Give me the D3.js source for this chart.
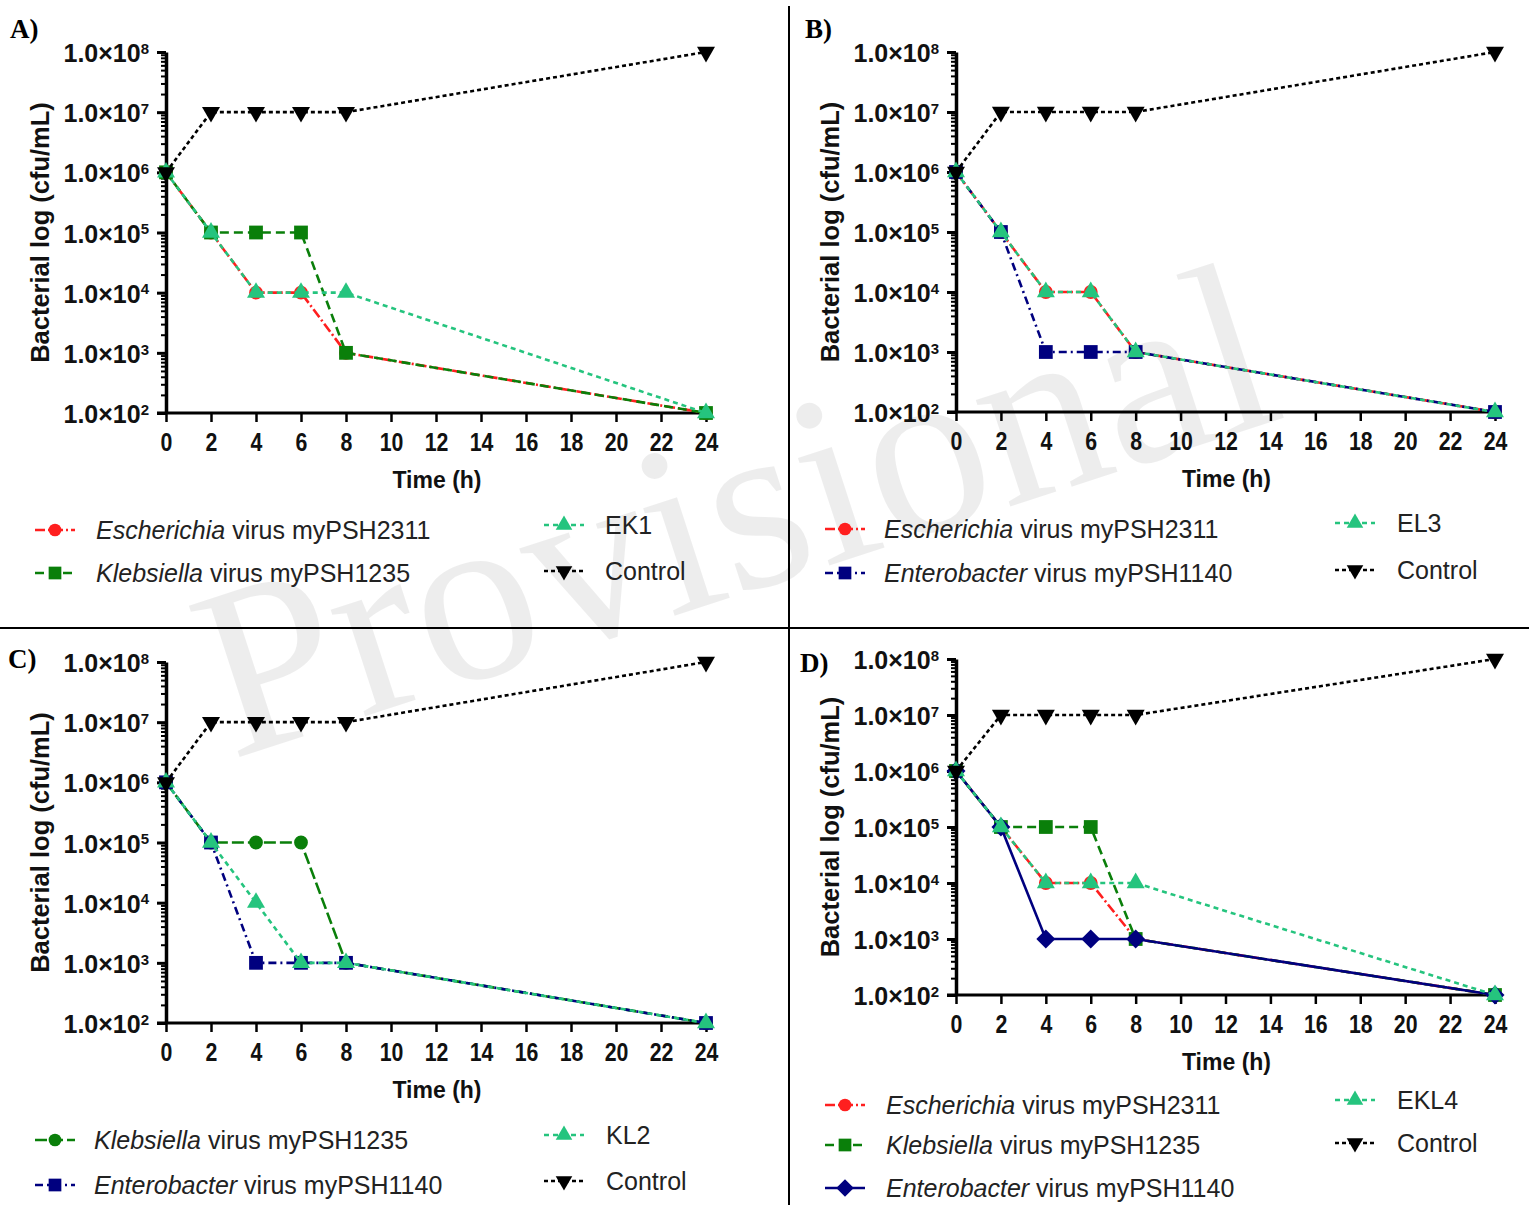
<!DOCTYPE html>
<html>
<head>
<meta charset="utf-8">
<script src="https://cdn.jsdelivr.net/npm/d3@7"></script>
<style>
  body { margin: 0; background: #fff; }
  text { font-family: Arial, "Liberation Sans", sans-serif; }
</style>
</head>
<body>
<div id="chart"></div>
<script>
// sampling times (h) and axis ticks
var times = [0, 2, 4, 6, 8, 24];
var xTicks = [0, 2, 4, 6, 8, 10, 12, 14, 16, 18, 20, 22, 24];
var yTicks = [1e2, 1e3, 1e4, 1e5, 1e6, 1e7, 1e8];

// bacterial counts (cfu/mL)
var escherichia  = [1e6, 1e5, 1e4, 1e4, 1e3, 1e2];
var klebsiella   = [1e6, 1e5, 1e5, 1e5, 1e3, 1e2];
var enterobacter = [1e6, 1e5, 1e3, 1e3, 1e3, 1e2];
var ek1          = [1e6, 1e5, 1e4, 1e4, 1e4, 1e2];
var el3          = [1e6, 1e5, 1e4, 1e4, 1e3, 1e2];
var kl2          = [1e6, 1e5, 1e4, 1e3, 1e3, 1e2];
var ekl4         = [1e6, 1e5, 1e4, 1e4, 1e4, 1e2];
var control      = [1e6, 1e7, 1e7, 1e7, 1e7, 1e8];

var width = 1529, height = 1205;
var RED = "#ff1f1f", GREEN = "#0a7f0a", MINT = "#25c47e", NAVY = "#00007f", BLACK = "#000";

var tri = d3.symbolTriangle;
var panels = [
  { name: "A)", lx: 10, ly: 38, left: 166, right: 706, top: 52, bottom: 413,
    legL: { sx: 55, tx: 96, y: [530, 573] }, legR: { sx: 564, tx: 605, y: [525, 571] },
    series: [
      { label: ["Escherichia", " virus myPSH2311"], values: escherichia, color: RED, sym: d3.symbolCircle, size: 150, dash: "10,3,2,3", col: "L" },
      { label: ["Klebsiella", " virus myPSH1235"], values: klebsiella, color: GREEN, sym: d3.symbolSquare, size: 190, dash: "9,5", col: "L" },
      { label: ["", "EK1"], values: ek1, color: MINT, sym: tri, size: 140, dash: "5,4", col: "R" },
      { label: ["", "Control"], values: control, color: BLACK, sym: tri, size: 140, down: true, dash: "4,3", col: "R" }
    ] },
  { name: "B)", lx: 805, ly: 38, left: 956, right: 1495, top: 52, bottom: 412,
    legL: { sx: 845, tx: 884, y: [529, 573] }, legR: { sx: 1355, tx: 1397, y: [523, 570] },
    series: [
      { label: ["Escherichia", " virus myPSH2311"], values: escherichia, color: RED, sym: d3.symbolCircle, size: 150, dash: "10,3,2,3", col: "L" },
      { label: ["Enterobacter", " virus myPSH1140"], values: enterobacter, color: NAVY, sym: d3.symbolSquare, size: 190, dash: "8,4,2,4", col: "L" },
      { label: ["", "EL3"], values: el3, color: MINT, sym: tri, size: 140, dash: "5,4", col: "R" },
      { label: ["", "Control"], values: control, color: BLACK, sym: tri, size: 140, down: true, dash: "4,3", col: "R" }
    ] },
  { name: "C)", lx: 8, ly: 668, left: 166, right: 706, top: 662, bottom: 1023,
    legL: { sx: 55, tx: 94, y: [1140, 1185] }, legR: { sx: 564, tx: 606, y: [1135, 1181] },
    series: [
      { label: ["Klebsiella", " virus myPSH1235"], values: klebsiella, color: GREEN, sym: d3.symbolCircle, size: 150, dash: "12,4", col: "L" },
      { label: ["Enterobacter", " virus myPSH1140"], values: enterobacter, color: NAVY, sym: d3.symbolSquare, size: 190, dash: "8,4,2,4", col: "L" },
      { label: ["", "KL2"], values: kl2, color: MINT, sym: tri, size: 140, dash: "5,4", col: "R" },
      { label: ["", "Control"], values: control, color: BLACK, sym: tri, size: 140, down: true, dash: "4,3", col: "R" }
    ] },
  { name: "D)", lx: 800, ly: 672, left: 956, right: 1495, top: 659, bottom: 995,
    legL: { sx: 845, tx: 886, y: [1105, 1145, 1188] }, legR: { sx: 1355, tx: 1397, y: [1100, 1143] },
    series: [
      { label: ["Escherichia", " virus myPSH2311"], values: escherichia, color: RED, sym: d3.symbolCircle, size: 150, dash: "10,3,2,3", col: "L" },
      { label: ["Klebsiella", " virus myPSH1235"], values: klebsiella, color: GREEN, sym: d3.symbolSquare, size: 190, dash: "9,5", col: "L" },
      { label: ["Enterobacter", " virus myPSH1140"], values: enterobacter, color: NAVY, sym: d3.symbolSquare, size: 180, diamond: true, dash: null, col: "L" },
      { label: ["", "EKL4"], values: ekl4, color: MINT, sym: tri, size: 140, dash: "5,4", col: "R" },
      { label: ["", "Control"], values: control, color: BLACK, sym: tri, size: 140, down: true, dash: "4,3", col: "R" }
    ] }
];

function rot(s) { return s.down ? " rotate(180)" : (s.diamond ? " rotate(45)" : ""); }

var svg = d3.select("#chart").append("svg")
    .attr("width", width)
    .attr("height", height);

// watermark
svg.append("text")
    .attr("transform", "translate(760,588) rotate(-18)")
    .attr("text-anchor", "middle")
    .style("font-family", "'Liberation Serif', 'Times New Roman', serif")
    .style("font-size", "244px")
    .style("fill", "#000")
    .style("fill-opacity", 0.07)
    .text("Provisional");

// panel dividers
svg.append("line").attr("x1", 789).attr("x2", 789).attr("y1", 6).attr("y2", height)
    .attr("stroke", "#000").attr("stroke-width", 2);
svg.append("line").attr("x1", 0).attr("x2", width).attr("y1", 628).attr("y2", 628)
    .attr("stroke", "#000").attr("stroke-width", 2);

var minor = [];
for (var e = 2; e < 8; e++) {
    for (var k = 2; k < 10; k++) minor.push(k * Math.pow(10, e));
}

panels.forEach(function (p) {
    var x = d3.scaleLinear().domain([0, 24]).range([p.left, p.right]);
    var y = d3.scaleLog().domain([1e2, 1e8]).range([p.bottom, p.top]);
    var g = svg.append("g");

    g.append("text")
        .attr("x", p.lx).attr("y", p.ly)
        .style("font-family", "'Liberation Serif', 'Times New Roman', serif")
        .style("font-weight", "bold")
        .style("font-size", "27px")
        .text(p.name);

    // minor log ticks
    g.append("g")
        .attr("transform", "translate(" + p.left + ",0)")
        .call(d3.axisLeft(y).tickValues(minor).tickSize(5).tickSizeOuter(0).tickFormat(""))
        .call(function (a) {
            a.select(".domain").remove();
            a.selectAll(".tick line").attr("stroke-width", 2);
        });

    // major y ticks + labels
    var ya = g.append("g")
        .attr("transform", "translate(" + p.left + ",0)")
        .call(d3.axisLeft(y).tickValues(yTicks).tickSize(9).tickSizeOuter(0).tickFormat(""));
    ya.select(".domain").attr("stroke-width", 3.5);
    ya.selectAll(".tick line").attr("stroke-width", 3);
    var yl = ya.selectAll(".tick").append("text")
        .attr("x", -17).attr("dy", "0.38em")
        .attr("fill", "#111")
        .attr("text-anchor", "end")
        .style("font-size", "25px")
        .style("font-weight", "bold");
    yl.append("tspan").text("1.0×10");
    yl.append("tspan").attr("dy", "-0.55em").style("font-size", "15px")
        .text(function (d) { return Math.round(Math.log10(d)); });

    // x axis
    var xa = g.append("g")
        .attr("transform", "translate(0," + p.bottom + ")")
        .call(d3.axisBottom(x).tickValues(xTicks).tickSize(9).tickSizeOuter(0).tickPadding(11).tickFormat(d3.format("d")));
    xa.select(".domain").attr("stroke-width", 3).attr("d", "M" + (p.left - 9) + ",0H" + (p.right + 4));
    xa.selectAll(".tick line").attr("stroke-width", 2.5);
    xa.selectAll(".tick text")
        .attr("fill", "#111")
        .attr("transform", "scale(0.82,1)")
        .style("font-size", "26px")
        .style("font-weight", "bold");

    g.append("text")
        .attr("x", (p.left + p.right) / 2 + 1).attr("y", p.bottom + 67)
        .attr("dy", "0.35em").attr("text-anchor", "middle")
        .attr("fill", "#111")
        .style("font-size", "23px").style("font-weight", "bold")
        .text("Time (h)");

    g.append("text")
        .attr("transform", "translate(" + (p.left - 126) + "," + ((p.top + p.bottom) / 2) + ") rotate(-90)")
        .attr("dy", "0.35em").attr("text-anchor", "middle")
        .attr("fill", "#111")
        .style("font-size", "25.5px").style("font-weight", "bold")
        .text("Bacterial log (cfu/mL)");

    // series
    var line = d3.line()
        .x(function (d, i) { return x(times[i]); })
        .y(function (d) { return y(d); });

    p.series.forEach(function (s) {
        g.append("path")
            .attr("d", line(s.values))
            .attr("fill", "none")
            .attr("stroke", s.color)
            .attr("stroke-width", 2.6)
            .attr("stroke-dasharray", s.dash);
        g.selectAll(null)
            .data(s.values)
          .enter().append("path")
            .attr("d", d3.symbol().type(s.sym).size(s.size))
            .attr("transform", function (d, i) {
                return "translate(" + x(times[i]) + "," + y(d) + ")" + rot(s);
            })
            .attr("fill", s.color);
    });

    // legend
    var rowL = 0, rowR = 0;
    p.series.forEach(function (s) {
        var L = s.col === "L" ? p.legL : p.legR;
        var ry = s.col === "L" ? L.y[rowL++] : L.y[rowR++];
        var lg = g.append("g");
        lg.append("line")
            .attr("x1", L.sx - 20).attr("x2", L.sx + 20).attr("y1", ry).attr("y2", ry)
            .attr("stroke", s.color).attr("stroke-width", 2.6)
            .attr("stroke-dasharray", s.dash);
        lg.append("path")
            .attr("d", d3.symbol().type(s.sym).size(s.size * 0.85))
            .attr("transform", "translate(" + L.sx + "," + ry + ")" + rot(s))
            .attr("fill", s.color);
        var t = lg.append("text")
            .attr("x", L.tx).attr("y", ry).attr("dy", "0.36em")
            .attr("fill", "#222")
            .style("font-size", "25px");
        if (s.label[0]) t.append("tspan").style("font-style", "italic").text(s.label[0]);
        t.append("tspan").text(s.label[1]);
    });
});
</script>
</body>
</html>
